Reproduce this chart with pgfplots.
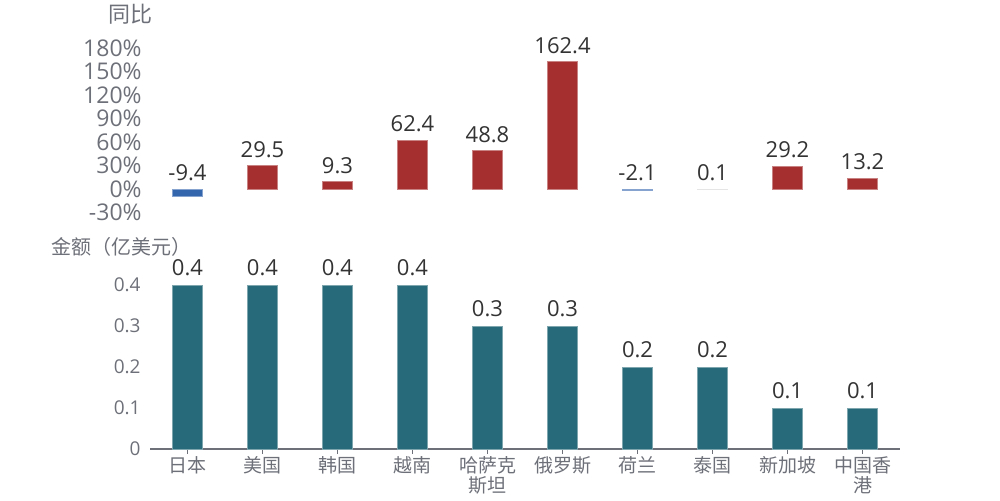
\documentclass[border=0pt]{standalone}
\usepackage{pgfplots}
\pgfplotsset{compat=1.18}
\usepackage{fontspec}
\setmainfont{Open Sans}
\newfontfamily\cjk{Noto Sans CJK SC}
\definecolor{tickgray}{HTML}{6E7079}
\definecolor{lblgray}{HTML}{333333}
\definecolor{barred}{HTML}{A52F2E}
\definecolor{barblue}{HTML}{3466AE}
\definecolor{barteal}{HTML}{276A7A}

\pgfplotstableread{
x y
1 29.5
2 9.3
3 62.4
4 48.8
5 162.4
8 29.2
9 13.2
}\redtable
\pgfplotstableread{
x y
7 0.1
}\tinytable
\pgfplotstableread{
x y
0 -9.4
6 -2.1
}\bluetable
\pgfplotstableread{
x y
0 0.4
1 0.4
2 0.4
3 0.4
4 0.3
5 0.3
6 0.2
7 0.2
8 0.1
9 0.1
}\amounttable

\begin{document}
\begin{tikzpicture}[x=1pt,y=1pt]
\useasboundingbox (0,0) rectangle (500,250);
% top panel
\begin{axis}[
  at={(75pt,143.75pt)}, anchor=south west,
  scale only axis, width=375pt, height=82.25pt,
  xmin=-0.5, xmax=9.5, ymin=-30, ymax=180,
  ybar, bar width=15pt, bar shift=0pt,
  xtick=\empty,
  ytick={-30,0,30,60,90,120,150,180},
  yticklabel={\pgfmathprintnumber{\tick}\%},
  /pgf/number format/assume math mode=true,
  yticklabel style={font=\fontsize{11.5}{12}\selectfont, text=tickgray, inner sep=0pt, xshift=-4pt},
  axis line style={draw=none}, tick style={draw=none},
  clip=false,
  nodes near coords={\pgfmathprintnumber[fixed,precision=1,fixed zerofill]{\pgfplotspointmeta}},
  every node near coord/.append style={font=\fontsize{11}{12}\selectfont, text=lblgray, inner sep=0pt, yshift=4pt},
]
\addplot[fill=barred, draw=barred!60!white, line width=0.4pt] table[x=x,y=y] {\redtable};
\addplot[fill=barred!15!white, draw=black!10, line width=0.4pt] table[x=x,y=y] {\tinytable};
\addplot[fill=barblue, draw=barblue!60!white, line width=0.4pt, nodes near coords=\empty] table[x=x,y=y] {\bluetable};
\addplot[draw=none, fill=none, point meta=explicit symbolic, nodes near coords={\pgfplotspointmeta}] coordinates {(0,0)[-9.4] (6,0)[-2.1]};
\end{axis}
% bottom panel
\begin{axis}[
  at={(75pt,25.5pt)}, anchor=south west,
  scale only axis, width=375pt, height=82pt,
  xmin=-0.5, xmax=9.5, ymin=0, ymax=0.4,
  ybar, bar width=15pt, bar shift=0pt,
  axis lines*=left,
  y axis line style={draw=none},
  x axis line style={draw=tickgray, line width=0.6pt},
  xtick={0,...,9},
  xticklabels={日本,美国,韩国,越南,{哈萨克\\斯坦},俄罗斯,荷兰,泰国,新加坡,{中国香\\港}},
  xticklabel style={font=\cjk\fontsize{9.5}{10}\selectfont, text=tickgray, align=center, inner sep=1pt},
  xtick align=outside,
  x tick style={draw=tickgray, line width=0.6pt},
  major tick length=2.5pt,
  ytick={0,0.1,0.2,0.3,0.4},
  y tick style={draw=none},
  yticklabel style={font=\fontsize{9.5}{10}\selectfont, text=tickgray, inner sep=0pt, xshift=-4.5pt,
    /pgf/number format/.cd, fixed, precision=1},
  /pgf/number format/assume math mode=true,
  clip=false,
  nodes near coords={\pgfmathprintnumber[fixed,precision=1,fixed zerofill]{\pgfplotspointmeta}},
  every node near coord/.append style={font=\fontsize{11}{12}\selectfont, text=lblgray, inner sep=0pt, yshift=4.5pt},
]
\addplot[fill=barteal, draw=barteal!60!white, line width=0.4pt] table[x=x,y=y] {\amounttable};
\end{axis}
\node[font=\cjk\fontsize{11}{12}\selectfont, text=tickgray] at (65,243) {同比};
\node[font=\cjk\fontsize{10}{11}\selectfont, text=tickgray] at (60.5,126.5) {金额（亿美元）};
\end{tikzpicture}
\end{document}
